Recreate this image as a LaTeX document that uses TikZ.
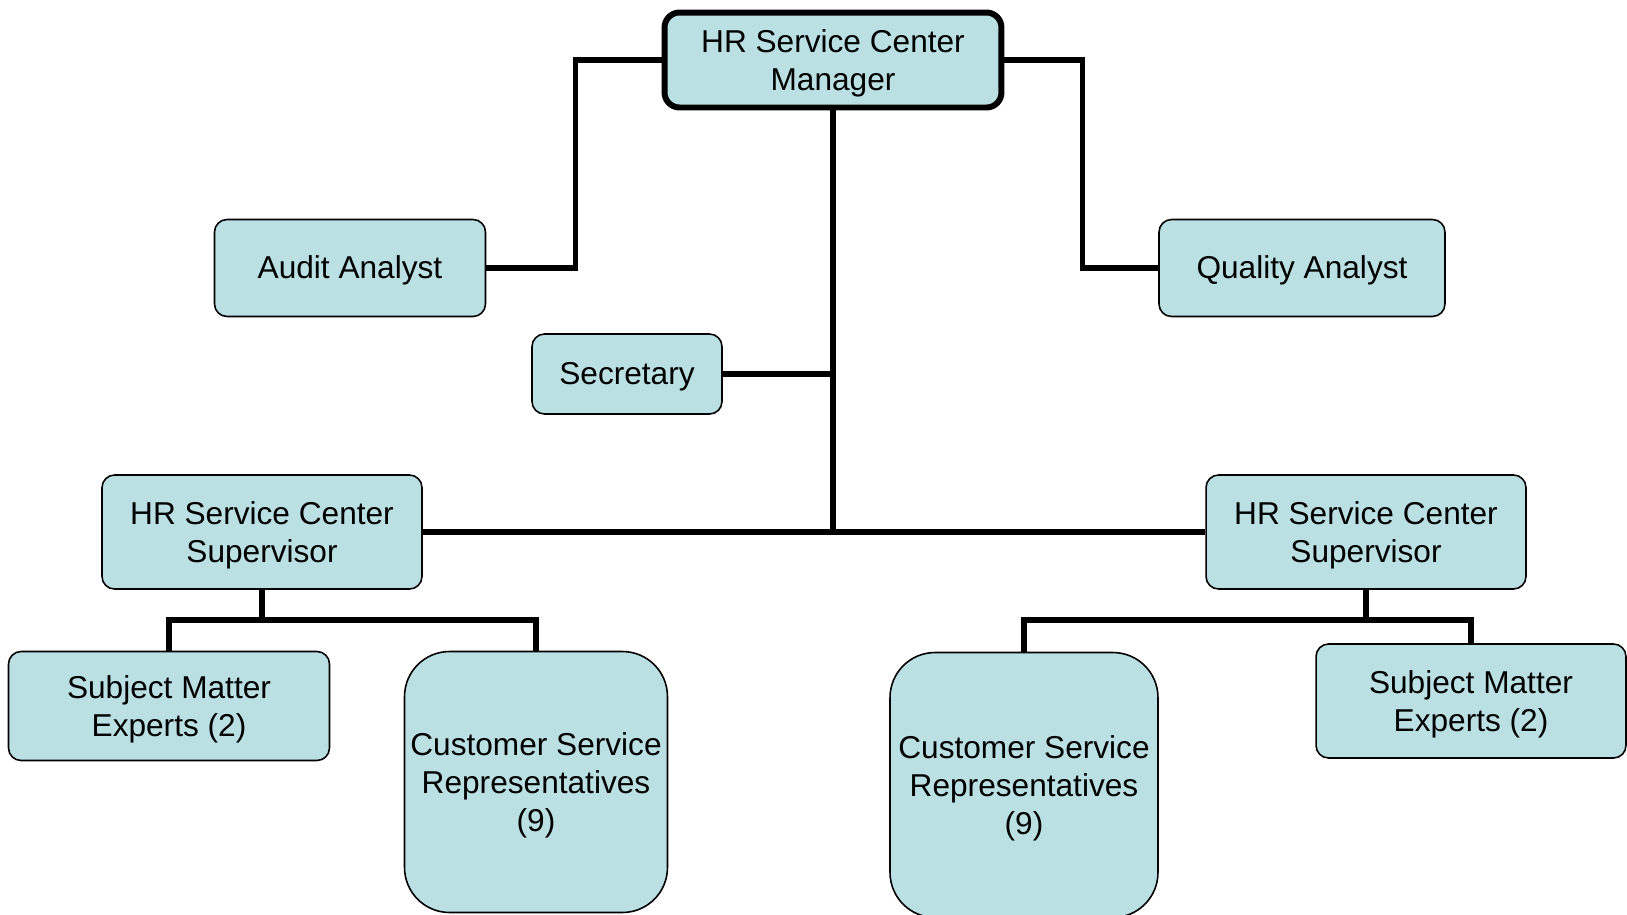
\documentclass[tikz,border=0pt]{standalone}
\usepackage{fontspec}
\setmainfont{Liberation Sans}
\definecolor{boxfill}{RGB}{186,224,228}

\begin{document}
\begin{tikzpicture}[x=0.02cm,y=-0.02cm,
    box/.style={draw, rounded corners=0.25cm, fill=boxfill, line width=0.9pt,
        align=center, inner sep=1pt, font=\fontsize{18}{21.8}\selectfont,
        text depth=0pt, execute at begin node={\rule{0pt}{16.3pt}}},
    oneline/.style={box, text depth=3.8pt},
    link/.style={line width=3.1pt}]

\useasboundingbox (0,0) rectangle (1627,914);

% Manager at the top
\node[box,
    line width=3.4pt,
    rounded corners=0.3cm,
    minimum width=6.74cm,
    minimum height=1.9cm] (mgr) at (833,60) {HR Service Center\\Manager};

% Staff directly under the manager
\node[oneline, minimum width=5.42cm, minimum height=1.94cm] (audit) at (350,268) {Audit Analyst};
\node[oneline, minimum width=5.72cm, minimum height=1.94cm] (quality) at (1302,268) {Quality Analyst};
\node[oneline, minimum width=3.8cm, minimum height=1.6cm] (sec) at (627,374) {Secretary};

% Supervisors
\node[box, minimum width=6.4cm, minimum height=2.28cm] (supL) at (262,532) {HR Service Center\\Supervisor};
\node[box, minimum width=6.4cm, minimum height=2.28cm] (supR) at (1366,532) {HR Service Center\\Supervisor};

% Teams under each supervisor
\node[box, minimum width=6.42cm, minimum height=2.18cm] (smeL) at (169,706) {Subject Matter\\Experts (2)};
\node[box,
    rounded corners=0.9cm,
    minimum width=5.26cm,
    minimum height=5.22cm] (csrL) at (536,782) {Customer Service\\Representatives\\(9)};
\node[box,
    rounded corners=0.9cm,
    minimum width=5.36cm,
    minimum height=5.3cm] (csrR) at (1024,785) {Customer Service\\Representatives\\(9)};
\node[box, minimum width=6.2cm, minimum height=2.28cm] (smeR) at (1471,701) {Subject Matter\\Experts (2)};

% Connectors
\draw[link] (mgr.west) -- ++(-86,0) |- (audit.east);
\draw[link] (mgr.east) -- ++(78,0) |- (quality.west);
\draw[link] (mgr.south) -- (mgr.south |- supL.east);
\draw[link] (sec.east) -- (sec.east -| mgr.south);
\draw[link] (supL.east) -- (supR.west);

\draw[link] (supL.south) -- ++(0,30) -| (smeL.north);
\draw[link] (supL.south) ++(0,30) -| (csrL.north);
\draw[link] (supR.south) -- ++(0,30) -| (csrR.north);
\draw[link] (supR.south) ++(0,30) -| (smeR.north);

\end{tikzpicture}
\end{document}
